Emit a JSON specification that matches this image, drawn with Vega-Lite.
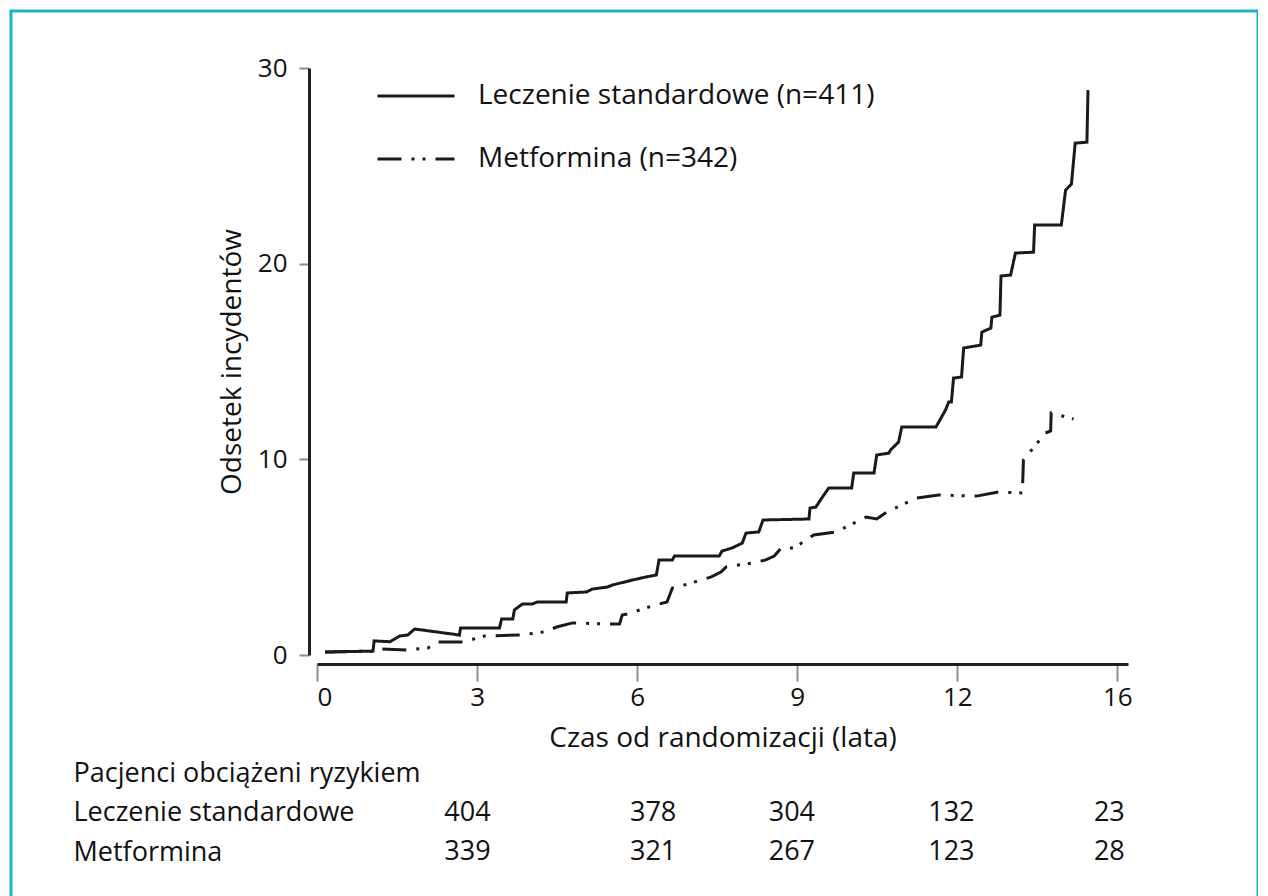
{
  "$schema": "https://vega.github.io/schema/vega-lite/v6.json",
  "width": 1247,
  "height": 887,
  "autosize": "none",
  "padding": {"left": 11, "top": 11, "right": 0, "bottom": 0},
  "background": "white",
  "config": {
    "font": "Open Sans",
    "view": {"stroke": "#1db3c6", "strokeWidth": 3},
    "axis": {"grid": false, "labelFont": "Open Sans", "titleFont": "Open Sans", "labelColor": "#111111", "titleColor": "#111111", "titleFontWeight": "normal", "labelLimit": 0},
    "legend": {"labelFont": "Open Sans", "labelColor": "#111111", "labelLimit": 0}
  },
  "datasets": {
    "curves": [
      {"series": "Leczenie standardowe (n=411)", "t": 0.15, "v": 0.15},
      {"series": "Leczenie standardowe (n=411)", "t": 1.05, "v": 0.2},
      {"series": "Leczenie standardowe (n=411)", "t": 1.07, "v": 0.72},
      {"series": "Leczenie standardowe (n=411)", "t": 1.37, "v": 0.68},
      {"series": "Leczenie standardowe (n=411)", "t": 1.55, "v": 0.97},
      {"series": "Leczenie standardowe (n=411)", "t": 1.7, "v": 1.02},
      {"series": "Leczenie standardowe (n=411)", "t": 1.83, "v": 1.33},
      {"series": "Leczenie standardowe (n=411)", "t": 2.67, "v": 1.02},
      {"series": "Leczenie standardowe (n=411)", "t": 2.69, "v": 1.38},
      {"series": "Leczenie standardowe (n=411)", "t": 3.42, "v": 1.38},
      {"series": "Leczenie standardowe (n=411)", "t": 3.46, "v": 1.84},
      {"series": "Leczenie standardowe (n=411)", "t": 3.67, "v": 1.84},
      {"series": "Leczenie standardowe (n=411)", "t": 3.7, "v": 2.3},
      {"series": "Leczenie standardowe (n=411)", "t": 3.85, "v": 2.61},
      {"series": "Leczenie standardowe (n=411)", "t": 4.04, "v": 2.61},
      {"series": "Leczenie standardowe (n=411)", "t": 4.13, "v": 2.71},
      {"series": "Leczenie standardowe (n=411)", "t": 4.67, "v": 2.71},
      {"series": "Leczenie standardowe (n=411)", "t": 4.69, "v": 3.17},
      {"series": "Leczenie standardowe (n=411)", "t": 5.05, "v": 3.22},
      {"series": "Leczenie standardowe (n=411)", "t": 5.16, "v": 3.37},
      {"series": "Leczenie standardowe (n=411)", "t": 5.44, "v": 3.47},
      {"series": "Leczenie standardowe (n=411)", "t": 5.54, "v": 3.58},
      {"series": "Leczenie standardowe (n=411)", "t": 5.91, "v": 3.83},
      {"series": "Leczenie standardowe (n=411)", "t": 6.17, "v": 3.99},
      {"series": "Leczenie standardowe (n=411)", "t": 6.36, "v": 4.09},
      {"series": "Leczenie standardowe (n=411)", "t": 6.41, "v": 4.85},
      {"series": "Leczenie standardowe (n=411)", "t": 6.66, "v": 4.85},
      {"series": "Leczenie standardowe (n=411)", "t": 6.7, "v": 5.06},
      {"series": "Leczenie standardowe (n=411)", "t": 7.54, "v": 5.06},
      {"series": "Leczenie standardowe (n=411)", "t": 7.59, "v": 5.31},
      {"series": "Leczenie standardowe (n=411)", "t": 7.78, "v": 5.47},
      {"series": "Leczenie standardowe (n=411)", "t": 7.97, "v": 5.72},
      {"series": "Leczenie standardowe (n=411)", "t": 8.04, "v": 6.23},
      {"series": "Leczenie standardowe (n=411)", "t": 8.28, "v": 6.29},
      {"series": "Leczenie standardowe (n=411)", "t": 8.36, "v": 6.9},
      {"series": "Leczenie standardowe (n=411)", "t": 9.22, "v": 6.95},
      {"series": "Leczenie standardowe (n=411)", "t": 9.24, "v": 7.51},
      {"series": "Leczenie standardowe (n=411)", "t": 9.35, "v": 7.56},
      {"series": "Leczenie standardowe (n=411)", "t": 9.46, "v": 8.02},
      {"series": "Leczenie standardowe (n=411)", "t": 9.59, "v": 8.53},
      {"series": "Leczenie standardowe (n=411)", "t": 10.02, "v": 8.53},
      {"series": "Leczenie standardowe (n=411)", "t": 10.06, "v": 9.3},
      {"series": "Leczenie standardowe (n=411)", "t": 10.44, "v": 9.3},
      {"series": "Leczenie standardowe (n=411)", "t": 10.49, "v": 10.22},
      {"series": "Leczenie standardowe (n=411)", "t": 10.72, "v": 10.32},
      {"series": "Leczenie standardowe (n=411)", "t": 10.75, "v": 10.48},
      {"series": "Leczenie standardowe (n=411)", "t": 10.9, "v": 10.88},
      {"series": "Leczenie standardowe (n=411)", "t": 10.96, "v": 11.65},
      {"series": "Leczenie standardowe (n=411)", "t": 11.6, "v": 11.65},
      {"series": "Leczenie standardowe (n=411)", "t": 11.78, "v": 12.52},
      {"series": "Leczenie standardowe (n=411)", "t": 11.84, "v": 12.93},
      {"series": "Leczenie standardowe (n=411)", "t": 11.89, "v": 12.93},
      {"series": "Leczenie standardowe (n=411)", "t": 11.93, "v": 14.15},
      {"series": "Leczenie standardowe (n=411)", "t": 12.08, "v": 14.21},
      {"series": "Leczenie standardowe (n=411)", "t": 12.12, "v": 15.69},
      {"series": "Leczenie standardowe (n=411)", "t": 12.44, "v": 15.84},
      {"series": "Leczenie standardowe (n=411)", "t": 12.46, "v": 16.5},
      {"series": "Leczenie standardowe (n=411)", "t": 12.63, "v": 16.71},
      {"series": "Leczenie standardowe (n=411)", "t": 12.65, "v": 17.27},
      {"series": "Leczenie standardowe (n=411)", "t": 12.8, "v": 17.37},
      {"series": "Leczenie standardowe (n=411)", "t": 12.82, "v": 19.37},
      {"series": "Leczenie standardowe (n=411)", "t": 13.0, "v": 19.42},
      {"series": "Leczenie standardowe (n=411)", "t": 13.09, "v": 20.54},
      {"series": "Leczenie standardowe (n=411)", "t": 13.43, "v": 20.59},
      {"series": "Leczenie standardowe (n=411)", "t": 13.45, "v": 21.97},
      {"series": "Leczenie standardowe (n=411)", "t": 13.95, "v": 21.97},
      {"series": "Leczenie standardowe (n=411)", "t": 14.03, "v": 23.76},
      {"series": "Leczenie standardowe (n=411)", "t": 14.14, "v": 24.07},
      {"series": "Leczenie standardowe (n=411)", "t": 14.21, "v": 26.16},
      {"series": "Leczenie standardowe (n=411)", "t": 14.43, "v": 26.21},
      {"series": "Leczenie standardowe (n=411)", "t": 14.45, "v": 28.87},
      {"series": "Metformina (n=342)", "t": 0.15, "v": 0.15},
      {"series": "Metformina (n=342)", "t": 1.12, "v": 0.2},
      {"series": "Metformina (n=342)", "t": 1.18, "v": 0.31},
      {"series": "Metformina (n=342)", "t": 1.68, "v": 0.26},
      {"series": "Metformina (n=342)", "t": 2.08, "v": 0.36},
      {"series": "Metformina (n=342)", "t": 2.26, "v": 0.66},
      {"series": "Metformina (n=342)", "t": 2.73, "v": 0.66},
      {"series": "Metformina (n=342)", "t": 3.14, "v": 0.97},
      {"series": "Metformina (n=342)", "t": 3.8, "v": 1.02},
      {"series": "Metformina (n=342)", "t": 4.26, "v": 1.18},
      {"series": "Metformina (n=342)", "t": 4.49, "v": 1.43},
      {"series": "Metformina (n=342)", "t": 4.79, "v": 1.64},
      {"series": "Metformina (n=342)", "t": 5.48, "v": 1.58},
      {"series": "Metformina (n=342)", "t": 5.67, "v": 1.58},
      {"series": "Metformina (n=342)", "t": 5.72, "v": 2.04},
      {"series": "Metformina (n=342)", "t": 5.82, "v": 2.1},
      {"series": "Metformina (n=342)", "t": 6.27, "v": 2.5},
      {"series": "Metformina (n=342)", "t": 6.56, "v": 2.71},
      {"series": "Metformina (n=342)", "t": 6.66, "v": 3.42},
      {"series": "Metformina (n=342)", "t": 6.75, "v": 3.47},
      {"series": "Metformina (n=342)", "t": 7.39, "v": 3.99},
      {"series": "Metformina (n=342)", "t": 7.57, "v": 4.24},
      {"series": "Metformina (n=342)", "t": 7.67, "v": 4.5},
      {"series": "Metformina (n=342)", "t": 8.15, "v": 4.7},
      {"series": "Metformina (n=342)", "t": 8.4, "v": 4.85},
      {"series": "Metformina (n=342)", "t": 8.57, "v": 5.06},
      {"series": "Metformina (n=342)", "t": 8.7, "v": 5.47},
      {"series": "Metformina (n=342)", "t": 8.94, "v": 5.47},
      {"series": "Metformina (n=342)", "t": 9.31, "v": 6.13},
      {"series": "Metformina (n=342)", "t": 9.73, "v": 6.29},
      {"series": "Metformina (n=342)", "t": 10.29, "v": 7.05},
      {"series": "Metformina (n=342)", "t": 10.49, "v": 6.95},
      {"series": "Metformina (n=342)", "t": 10.68, "v": 7.31},
      {"series": "Metformina (n=342)", "t": 11.24, "v": 8.02},
      {"series": "Metformina (n=342)", "t": 11.65, "v": 8.18},
      {"series": "Metformina (n=342)", "t": 12.36, "v": 8.12},
      {"series": "Metformina (n=342)", "t": 12.77, "v": 8.33},
      {"series": "Metformina (n=342)", "t": 13.22, "v": 8.28},
      {"series": "Metformina (n=342)", "t": 13.24, "v": 9.96},
      {"series": "Metformina (n=342)", "t": 13.65, "v": 11.34},
      {"series": "Metformina (n=342)", "t": 13.75, "v": 11.45},
      {"series": "Metformina (n=342)", "t": 13.76, "v": 12.37},
      {"series": "Metformina (n=342)", "t": 14.18, "v": 12.06}
    ],
    "risk": [
      {"row": "Leczenie standardowe", "t": 2.82, "n": 404},
      {"row": "Leczenie standardowe", "t": 6.3, "n": 378},
      {"row": "Leczenie standardowe", "t": 8.9, "n": 304},
      {"row": "Leczenie standardowe", "t": 11.89, "n": 132},
      {"row": "Leczenie standardowe", "t": 14.85, "n": 23},
      {"row": "Metformina", "t": 2.82, "n": 339},
      {"row": "Metformina", "t": 6.3, "n": 321},
      {"row": "Metformina", "t": 8.9, "n": 267},
      {"row": "Metformina", "t": 11.89, "n": 123},
      {"row": "Metformina", "t": 14.85, "n": 28}
    ]
  },
  "layer": [
    {
      "data": {"name": "curves"},
      "mark": {"type": "line", "strokeWidth": 3, "color": "#1a1a1a"},
      "encoding": {
        "x": {
          "field": "t", "type": "quantitative",
          "scale": {"domain": [0, 15.2], "range": [306, 1117], "nice": false, "zero": false},
          "axis": {
            "orient": "bottom", "offset": -234,
            "values": [0, 3, 6, 9, 12, 15],
            "labelExpr": "datum.value == 15 ? '16' : format(datum.value, 'd')",
            "title": "Czas od randomizacji (lata)",
            "titleFontSize": 28, "titlePadding": 14,
            "labelFontSize": 26, "labelPadding": 3,
            "tickSize": 17, "tickColor": "#8c8c8c", "tickWidth": 2,
            "domainColor": "#222222", "domainWidth": 3
          }
        },
        "y": {
          "field": "v", "type": "quantitative",
          "scale": {"domain": [0, 30], "range": [644, 57], "nice": false, "zero": false},
          "axis": {
            "orient": "left", "offset": -298,
            "values": [0, 10, 20, 30],
            "title": "Odsetek incydentów",
            "titleFontSize": 28, "titlePadding": 11,
            "labelFontSize": 26, "labelPadding": 12,
            "tickSize": 10, "tickColor": "#8c8c8c", "tickWidth": 2,
            "domainColor": "#222222", "domainWidth": 3
          }
        },
        "strokeDash": {
          "field": "series", "type": "nominal",
          "scale": {
            "domain": ["Leczenie standardowe (n=411)", "Metformina (n=342)"],
            "range": [[1, 0], [24, 10, 3, 8, 3, 10]]
          },
          "legend": {
            "orient": "none", "legendX": 365, "legendY": 45,
            "title": null, "padding": 0,
            "symbolType": "stroke", "symbolSize": 5929, "symbolStrokeWidth": 3,
            "labelFontSize": 28, "labelOffset": 22, "rowPadding": 9
          }
        }
      }
    },
    {
      "data": {"name": "risk"},
      "mark": {"type": "text", "fontSize": 27, "color": "#111111", "align": "center", "baseline": "middle"},
      "encoding": {
        "x": {"field": "t", "type": "quantitative"},
        "y": {
          "field": "row", "type": "nominal",
          "scale": {
            "type": "point",
            "domain": ["Pacjenci obciążeni ryzykiem", "Leczenie standardowe", "Metformina"],
            "range": [762, 841], "padding": 0
          },
          "axis": {
            "orient": "left", "offset": -62, "title": null,
            "labelAlign": "left", "labelPadding": 0, "ticks": false, "domain": false,
            "labelFontSize": 27, "labelColor": "#111111"
          }
        },
        "text": {"field": "n", "type": "quantitative"}
      }
    }
  ],
  "resolve": {"scale": {"y": "independent"}, "axis": {"y": "independent"}}
}
